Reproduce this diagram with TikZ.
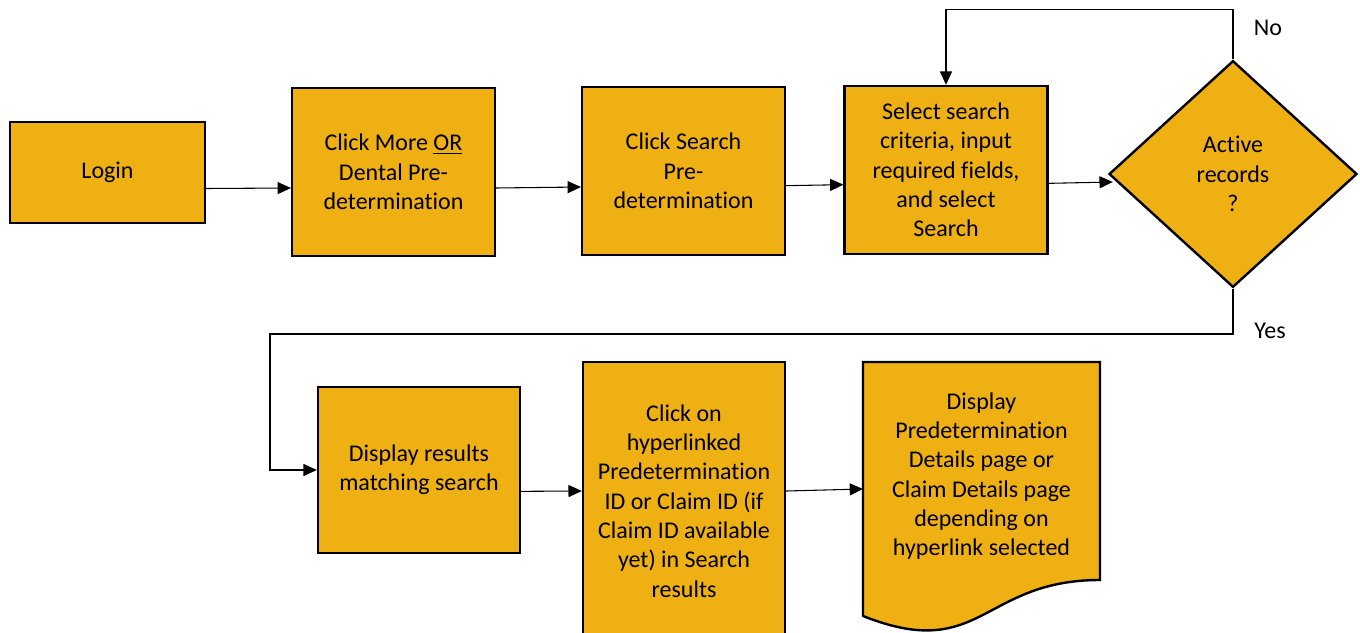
\documentclass[tikz,border=0pt]{standalone}
\usepackage{fontspec}
\setmainfont{Carlito}[Ligatures=NoCommon]
\usetikzlibrary{shapes.geometric,arrows.meta}
\definecolor{stepgold}{RGB}{238,176,18}

\begin{document}
\begin{tikzpicture}[x=0.75pt,y=-0.75pt]
  \tikzstyle{box}=[rectangle, draw=black, line width=1.8pt, fill=stepgold, align=center,
    font=\fontsize{18}{22}\selectfont, inner sep=2pt]
  \tikzstyle{arr}=[draw=black, line width=0.8pt, -{Triangle[length=10pt,width=9pt]}]
  \tikzstyle{lbl}=[font=\fontsize{18}{22}\selectfont]

  \clip (0,0) rectangle (1360,632);
  \useasboundingbox (0,0) rectangle (1360,632);

  % first row
  \node[box, minimum width=146pt, minimum height=76pt]   (login)  at (107.5, 172.5) {Login};
  \node[box, minimum width=152pt, minimum height=126pt]  (more)   at (393.5, 172)   {Click More \underline{OR}\\Dental Pre-\\determination};
  \node[box, minimum width=152pt, minimum height=126pt]  (search) at (683.5, 171)   {Click Search\\Pre-\\determination};
  \node[box, minimum width=152pt, minimum height=126pt]  (crit)   at (946,   170)   {Select search\\criteria, input\\required fields,\\and select\\Search};
  \node[box, shape=diamond, minimum width=186pt, minimum height=170pt] (active) at (1233, 174) {Active\\records\\?};

  % second row
  \node[box, minimum width=151.5pt, minimum height=124.5pt] (results) at (419, 470) {Display results\\matching search};
  \node[box, minimum width=151.5pt, minimum height=208.5pt] (link)    at (684, 501) {Click on\\hyperlinked\\Predetermination\\ID or Claim ID (if\\Claim ID available\\yet) in Search\\results};

  % document shape
  \coordinate (doctl) at (863, 362);
  \coordinate (doctr) at (1100, 362);
  \filldraw[fill=stepgold, draw=black, line width=1.8pt]
    (doctl) -- (doctr) -- (1100, 580)
    .. controls (981.5, 580) and (981.5, 663) .. (863, 616) -- cycle;
  \node[lbl, align=center] (details) at (981.5, 476) {Display\\Predetermination\\Details page or\\Claim Details page\\depending on\\hyperlink selected};
  \coordinate (docin) at (863, 489);

  \node[lbl] (no)  at (1268, 28)  {No};
  \node[lbl] (yes) at (1270, 331) {Yes};
  \coordinate (yesturn) at (270, 334);

  \path[arr] ([yshift=-12pt]login.east) -- ([yshift=-12pt]more.west);
  \path[arr] ([yshift=-12pt]more.east) -- ([yshift=-12pt]search.west);
  \path[arr] ([yshift=-11pt]search.east) -- ([yshift=-11pt]crit.west);
  \path[arr] ([yshift=-10pt]crit.east) -- ([shift={(5,8)}]active.west);
  \path[arr] (active.north) -- ++(0,-50) -| (crit.north);
  \path[arr] (active.south) |- (yesturn) |- (results.west);
  \path[arr] ([yshift=-16pt]results.east) -- ([yshift=7.5pt]link.west);
  \path[arr] ([yshift=7.5pt]link.east) -- (docin);
\end{tikzpicture}
\end{document}
